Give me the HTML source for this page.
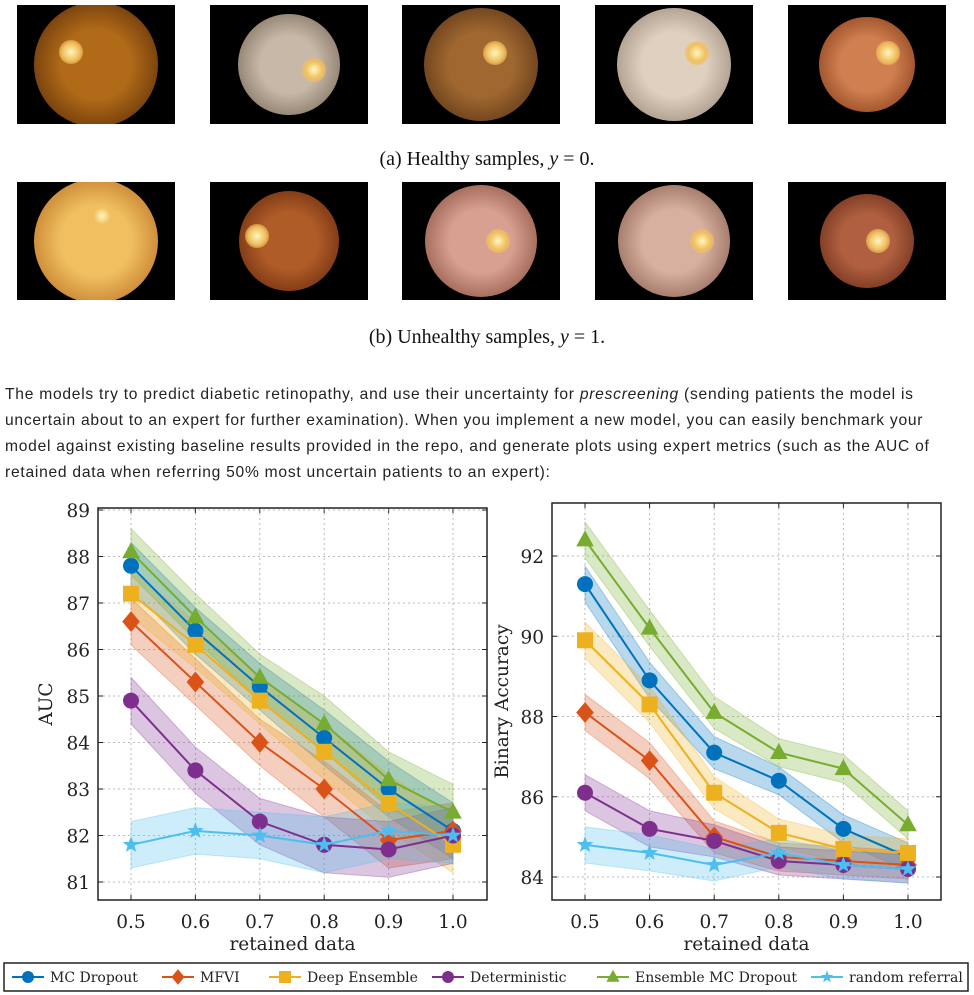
<!DOCTYPE html>
<html><head><meta charset="utf-8">
<style>
body{margin:0;width:974px;height:995px;background:#fff;overflow:hidden;position:relative;font-family:"Liberation Sans",sans-serif}
.ph{position:absolute;background:#000;overflow:hidden}
.eye{position:absolute;border-radius:50%}
.disc{position:absolute;border-radius:50%;background:radial-gradient(circle,#fff6c0 0%,#f0c060 50%,rgba(230,150,60,0) 100%)}
.cap{position:absolute;left:0;width:974px;text-align:center;font-family:"Liberation Serif",serif;font-size:20px;color:#111}
.para{position:absolute;left:5px;top:382px;width:945px;font-size:15.6px;letter-spacing:0.75px;line-height:26px;color:#222;font-family:"Liberation Sans",sans-serif}
</style></head><body>
<div id="photos"></div>
<div class="cap" style="top:148px">(a) Healthy samples, <i>y</i> = 0.</div>
<div class="cap" style="top:326px">(b) Unhealthy samples, <i>y</i> = 1.</div>
<div class="para">The models try to predict diabetic retinopathy, and use their uncertainty for <i>prescreening</i> (sending patients the model is uncertain about to an expert for further examination). When you implement a new model, you can easily benchmark your model against existing baseline results provided in the repo, and generate plots using expert metrics (such as the AUC of retained data when referring 50% most uncertain patients to an expert):</div>
<svg id="chart" width="974" height="995" style="position:absolute;left:0;top:0"></svg>
<script>
const photoX=[17,210,402,595,788];
const photoCols=[["#b06a18","#4a2004"],["#c8b8a8","#6a5a4a"],["#a06830","#4a2810"],["#e0d0c0","#8a7a6a"],["#d08050","#7a3010"],
["#f0c060","#b06018"],["#b05c28","#5a2006"],["#d8a090","#7a4030"],["#d8b0a0","#7a5040"],["#b06040","#5a2010"]];
const discPos=[[0.3,0.4],[0.75,0.55],[0.62,0.4],[0.7,0.4],[0.72,0.38],[0.55,0.3],[0.18,0.45],[0.65,0.5],[0.75,0.5],[0.62,0.5]];
const pc=document.getElementById('photos');
for(let r=0;r<2;r++)for(let i=0;i<5;i++){
 const k=r*5+i;const d=document.createElement('div');d.className='ph';
 
 
 const top=r?182:5,h=r?118:119;
 d.style.cssText=`left:${photoX[i]}px;top:${top}px;width:158px;height:${h}px`;
 const e=document.createElement('div');e.className='eye';
 const s=[1.05,0.85,0.95,0.95,0.8][i]*h;
 e.style.cssText=`width:${s}px;height:${s}px;left:${79-s/2}px;top:${h/2-s/2}px;background:radial-gradient(circle at 50% 50%,${photoCols[k][0]} 0%,${photoCols[k][0]} 40%,${photoCols[k][1]} 100%)`;
 const dc=document.createElement('div');dc.className='disc';
 dc.style.cssText=`width:24px;height:24px;left:${s*discPos[k][0]-12}px;top:${s*discPos[k][1]-12}px`;
 e.appendChild(dc);d.appendChild(e);pc.appendChild(d);
}
const xs=[0.5,0.6,0.7,0.8,0.9,1.0];
const names=["MC Dropout","MFVI","Deep Ensemble","Deterministic","Ensemble MC Dropout","random referral"];
const colors=["#0072BD","#D95319","#EDB120","#7E2F8E","#77AC30","#4DBEEE"];
const markers=["circle","diamond","square","circle","triangle","star"];
const aucMC=[87.8,86.4,85.2,84.1,83.0,82.1];
const aucMFVI=[86.6,85.3,84.0,83.0,81.9,82.1];
const aucDE=[87.2,86.1,84.9,83.8,82.7,81.8];
const aucDet=[84.9,83.4,82.3,81.8,81.7,82.0];
const aucEns=[88.1,86.7,85.4,84.4,83.2,82.5];
const aucRand=[81.8,82.1,82.0,81.8,82.1,82.0];
const aucStd=[0.5,0.5,0.5,0.6,0.6,0.6];
const accMC=[91.3,88.9,87.1,86.4,85.2,84.5];
const accMFVI=[88.1,86.9,85.0,84.5,84.4,84.3];
const accDE=[89.9,88.3,86.1,85.1,84.7,84.6];
const accDet=[86.1,85.2,84.9,84.4,84.3,84.2];
const accEns=[92.4,90.2,88.1,87.1,86.7,85.3];
const accRand=[84.8,84.6,84.3,84.6,84.3,84.2];
const accStd=[0.45,0.45,0.4,0.35,0.35,0.35];
const aucTicks=[81,82,83,84,85,86,87,88,89];
const accTicks=[84,86,88,90,92];
const xTicks=["0.5","0.6","0.7","0.8","0.9","1.0"];

const svg=document.getElementById('chart');const NS="http://www.w3.org/2000/svg";
function el(t,a,p){const e=document.createElementNS(NS,t);for(const k in a)e.setAttribute(k,a[k]);(p||svg).appendChild(e);return e;}
function marker(g,type,x,y,c,sz){
 let e;
 if(type=="circle")e=el('circle',{cx:x,cy:y,r:sz},g);
 else if(type=="square")e=el('rect',{x:x-sz,y:y-sz,width:2*sz,height:2*sz},g);
 else if(type=="diamond")e=el('polygon',{points:`${x},${y-sz*1.3} ${x+sz*1.1},${y} ${x},${y+sz*1.3} ${x-sz*1.1},${y}`},g);
 else if(type=="triangle")e=el('polygon',{points:`${x},${y-sz*1.2} ${x+sz*1.1},${y+sz*0.8} ${x-sz*1.1},${y+sz*0.8}`},g);
 else {let p=[];for(let i=0;i<10;i++){const r=i%2?sz*0.45:sz*1.1,a=-Math.PI/2+i*Math.PI/5;p.push((x+r*Math.cos(a))+","+(y+r*Math.sin(a)));}e=el('polygon',{points:p.join(" ")},g);}
 e.setAttribute('fill',c);
 
 
}
function drawChart(cfg){
 const {L,R,T,B,x0,x1,yv0,yp0,yv1,yp1,ticks,series,std,ylabel,ylx,name}=cfg;
 const g=el('g',{});
 
 
 const sx=v=>x0+(v-0.5)/0.5*(x1-x0);
 const sy=v=>yp0+(v-yv0)/(yv1-yv0)*(yp1-yp0);
 xs.forEach((v,i)=>{el('line',{x1:sx(v),x2:sx(v),y1:T,y2:B,stroke:"#bbb","stroke-dasharray":"2,3"},g);
  el('line',{x1:sx(v),x2:sx(v),y1:B,y2:B-5,stroke:"#222"},g);el('line',{x1:sx(v),x2:sx(v),y1:T,y2:T+5,stroke:"#222"},g);
  const t=el('text',{x:sx(v),y:B+28,"text-anchor":"middle","font-family":"DejaVu Serif, serif","font-size":18.5,fill:"#222"},g);t.textContent=xTicks[i];
  });
 ticks.forEach(v=>{el('line',{x1:L,x2:R,y1:sy(v),y2:sy(v),stroke:"#bbb","stroke-dasharray":"2,3"},g);
  el('line',{x1:L,x2:L+5,y1:sy(v),y2:sy(v),stroke:"#222"},g);el('line',{x1:R,x2:R-5,y1:sy(v),y2:sy(v),stroke:"#222"},g);
  const t=el('text',{x:L-8,y:sy(v)+7,"text-anchor":"end","font-family":"DejaVu Serif, serif","font-size":18.5,fill:"#222"},g);t.textContent=v;
  });
 series.forEach((s,k)=>{
  const up=s.map((v,i)=>sx(xs[i])+","+sy(v+std[i])),dn=s.map((v,i)=>sx(xs[i])+","+sy(v-std[i])).reverse();
  const b=el('polygon',{points:up.concat(dn).join(" "),fill:colors[k],"fill-opacity":0.28,stroke:colors[k],"stroke-opacity":0.3},g);
  
 });
 series.forEach((s,k)=>{
  const l=el('polyline',{points:s.map((v,i)=>sx(xs[i])+","+sy(v)).join(" "),fill:"none",stroke:colors[k],"stroke-width":2},g);
  
  s.forEach((v,i)=>marker(g,markers[k],sx(xs[i]),sy(v),colors[k],8));
 });
 el('rect',{x:L,y:T,width:R-L,height:B-T,fill:"none",stroke:"#222","stroke-width":1.5},g);
 const xl=el('text',{x:(L+R)/2,y:B+50,"text-anchor":"middle","font-family":"DejaVu Serif, serif","font-size":18.5,fill:"#222"},g);xl.textContent="retained data";
 
 const yl=el('text',{x:ylx,y:(T+B)/2,"text-anchor":"middle","font-family":"DejaVu Serif, serif","font-size":18.5,fill:"#222",transform:`rotate(-90 ${ylx} ${(T+B)/2})`},g);yl.textContent=ylabel;
 
}
drawChart({name:"auc-chart",L:98,R:487,T:508,B:900,x0:131,x1:453,yv0:89,yp0:510,yv1:81,yp1:882,ticks:aucTicks,
 series:[aucMC,aucMFVI,aucDE,aucDet,aucEns,aucRand],std:aucStd,ylabel:"AUC",ylx:52});
drawChart({name:"accuracy-chart",L:552,R:941,T:503,B:900,x0:585,x1:908,yv0:92,yp0:556,yv1:84,yp1:877,ticks:accTicks,
 series:[accMC,accMFVI,accDE,accDet,accEns,accRand],std:accStd,ylabel:"Binary Accuracy",ylx:508});
const lg=el('g',{});


el('rect',{x:4,y:963,width:964,height:28,fill:"#fff",stroke:"#222","stroke-width":1.5},lg);
const legX=[28,178,285,448,613,827];
names.forEach((n,k)=>{
 const g=el('g',{},lg);
 
 
 el('line',{x1:legX[k]-16,x2:legX[k]+16,y1:977,y2:977,stroke:colors[k],"stroke-width":2},g);
 marker(g,markers[k],legX[k],977,colors[k],6);
 const t=el('text',{x:legX[k]+22,y:982,"font-family":"DejaVu Serif, serif","font-size":14,fill:"#222"},g);t.textContent=n;
});
</script>
</body></html>
